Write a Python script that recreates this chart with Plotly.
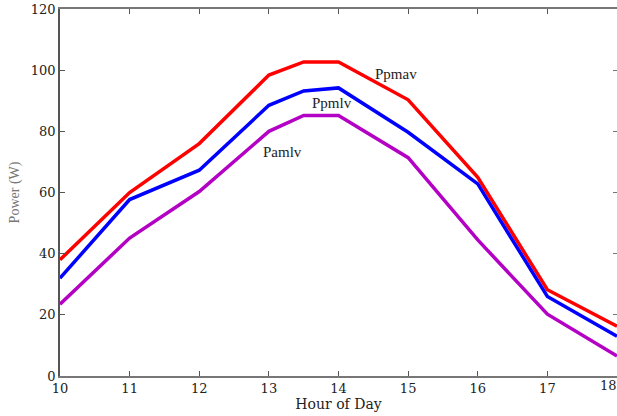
import plotly.graph_objects as go

hours = [10, 11, 12, 13, 13.5, 14, 15, 16, 17, 18]
ppmav = [38, 60, 76, 98.4, 102.7, 102.7, 90.3, 65, 28.2, 16.3]
ppmlv = [32, 57.7, 67.3, 88.5, 93.2, 94.2, 79.7, 62.8, 26, 13]
pamlv = [23.5, 45.1, 60.3, 80, 85.2, 85.2, 71.4, 44.5, 20.2, 6.5]

series_names = ["Ppmav", "Ppmlv", "Pamlv"]
series_vals = [ppmav, ppmlv, pamlv]
colors = ["#ff0000", "#0000ff", "#b400c4"]
yaxes = ["y", "y", "y2"]
label_pos = [(14.83, 98.7), (13.91, 89.2), (13.19, 73.2)]

x_ticks = list(range(10, 19))
y_ticks = list(range(0, 121, 20))

FONT = "DejaVu Serif"

fig = go.Figure()
for name, vals, col, ya in zip(series_names, series_vals, colors, yaxes):
    fig.add_trace(go.Scatter(x=hours, y=vals, mode="lines", name=name, yaxis=ya,
                             line=dict(color=col, width=3.5), showlegend=False))

for name, (lx, ly) in zip(series_names, label_pos):
    fig.add_annotation(x=lx, y=ly, xref="x", yref="y", text=name, showarrow=False,
                       font=dict(family="Liberation Serif", size=15, color="#222"))

# last tick label, kept inside the right edge
fig.add_annotation(x=x_ticks[-1], y=0, xref="x", yref="paper", text=str(x_ticks[-1]),
                   showarrow=False, yanchor="top", xanchor="right", yshift=-1,
                   borderpad=0, xshift=1,
                   font=dict(family=FONT, size=13, color="#222"))

fig.update_layout(
    width=617, height=416,
    margin=dict(l=60, r=0, t=9, b=40),
    plot_bgcolor="white", paper_bgcolor="white",
    xaxis=dict(range=[10, 18], tickvals=x_ticks, ticks="inside", ticklen=5,
               tickcolor="#555", showline=True, linecolor="#777", linewidth=1.5,
               mirror="ticks", showgrid=False, zeroline=False,
               tickfont=dict(family=FONT, size=13, color="#222"),
               title=dict(text="Hour of Day", standoff=2,
                          font=dict(family=FONT, size=14, color="#222"))),
    yaxis=dict(range=[0, 120], tickvals=y_ticks, ticks="inside", ticklen=5,
               tickcolor="#555", showline=True, linecolor="#555", linewidth=1.5,
               showgrid=False, zeroline=False,
               tickfont=dict(family=FONT, size=13, color="#222"),
               title=dict(text="Power (W)", standoff=8,
                          font=dict(family="Liberation Serif", size=14, color="#777"))),
    yaxis2=dict(range=[0, 120], tickvals=y_ticks, ticks="inside", ticklen=4,
                tickcolor="#777", overlaying="y", side="right", showline=False,
                showticklabels=False, showgrid=False, zeroline=False),
)

fig.write_html("out.html")
